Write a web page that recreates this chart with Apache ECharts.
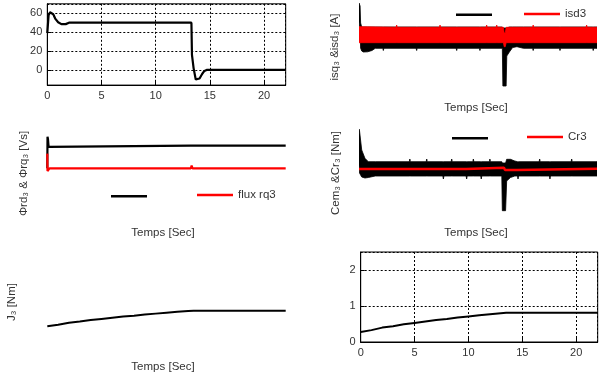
<!DOCTYPE html>
<html><head><meta charset="utf-8">
<script src="https://cdn.jsdelivr.net/npm/echarts/dist/echarts.min.js"></script>
<style>html,body{margin:0;padding:0;background:#fff}#c{width:600px;height:373px}</style>
</head><body><div id="c"></div>
<script>
// ---- Panel 1: speed ----
const T_SPEED = [0, 0.08, 0.12, 0.25, 0.4, 0.55, 0.75, 1.0, 1.3, 1.7, 2.0, 13.3, 13.35, 13.5, 13.7, 13.85, 14.05, 14.3, 14.5, 14.7, 22];
const SPEED   = [39, 39, 58, 61, 61.5, 59, 54, 50.5, 48.5, 48.5, 50, 50, 16, 2, -10, -12, -9, -4, -1, 0, 0];

// ---- Panel 2: isq3 (black band envelope) / isd3 (red band envelope) ----
const T_ISQ  = [0, 0.1, 0.15, 0.25, 0.4, 0.8, 1.2, 1.5, 2.2, 2.25, 2.3, 5.28, 5.33, 5.38, 8.98, 9.03, 9.08, 11.13, 11.18, 11.23, 13.25, 13.3, 13.6, 13.66, 13.9, 14.2, 14.6, 15.2, 16.05, 16.1, 16.15, 18.53, 18.58, 18.63, 21.6, 21.65, 21.7, 22];
const ISQ_LO = [28, 20, 2, -1, -2, -1.8, -0.5, 1.7, 1.7, -0.5, 1.7, 1.7, -0.5, 1.7, 1.7, -0.5, 1.7, 1.7, -0.5, 1.7, 1.7, -36, -36, -6, -2, 2.5, 3.3, 1.7, 1.7, -0.5, 1.7, 1.7, -0.5, 1.7, 1.7, -0.5, 1.7, 1.7];
const ISQ_HI = [47, 44, 27, 23, 23, 23, 23, 23, 23, 23, 23, 23, 23, 23, 23, 23, 23, 23, 23, 23, 23, 22, 22, 22, 23, 23, 23, 23, 23, 23, 23, 23, 23, 23, 23, 23, 23, 23];
const T_ISD  = [0, 3.43, 3.48, 3.53, 7.44, 7.49, 7.54, 11.75, 11.8, 11.85, 12.68, 12.73, 12.78, 13.35, 13.42, 13.52, 13.6, 16.05, 16.1, 16.15, 20.99, 21.04, 21.09, 22];
const ISD_LO = [7.3, 7.3, 7.3, 7.3, 7.3, 7.3, 7.3, 7.3, 7.3, 7.3, 7.3, 7.3, 7.3, 7.3, 3.3, 3.3, 7.3, 7.3, 7.3, 7.3, 7.3, 7.3, 7.3, 7.3];
const ISD_HI = [23.3, 22.7, 25, 22.7, 22.7, 25, 22.7, 22.7, 25, 22.7, 22.7, 25, 22.7, 22.7, 17, 17, 22.7, 22.7, 25, 22.7, 22.7, 25, 22.7, 22.7];

// ---- Panel 3: rotor fluxes ----
const T_FRD = [0, 0.02, 0.06, 0.12, 0.2, 0.3, 13.25, 13.32, 13.4, 22];
const FRD   = [0, 1.4, 1.3, 0.95, 0.9, 1.0, 1.0, 0.94, 1.0, 1.0];
const T_FRQ = [0, 0.02, 0.08, 0.2, 13.25, 13.32, 13.4, 22];
const FRQ   = [0.65, -0.12, -0.05, 0, 0, 0.12, 0, 0];

// ---- Panel 4: Cem3 (black band envelope) / Cr3 ----
const T_CEM  = [0, 0.05, 0.25, 0.55, 0.86, 1.5, 4.65, 4.7, 4.75, 6.21, 6.26, 6.31, 7.75, 7.8, 7.85, 8.52, 8.57, 8.62, 9.9, 9.95, 10.0, 10.52, 10.57, 10.62, 11.25, 11.3, 11.35, 12.05, 12.1, 12.15, 13.2, 13.25, 13.55, 13.65, 14.0, 14.4, 14.65, 14.7, 14.75, 16.65, 16.7, 16.75, 17.6, 17.65, 17.7, 19.61, 19.66, 19.71, 22];
const CEM_LO = [20, 12, 8, 7, 7.5, 9, 9, 9, 9, 9, 9, 9, 9, 6, 9, 9, 9, 9, 9, 6, 9, 9, 9, 9, 9, 6, 9, 9, 9, 9, 9, -25.7, -25.7, 4, 7.5, 9, 9, 6, 9, 9, 9, 9, 9, 6, 9, 9, 9, 9, 9];
const CEM_HI = [56, 54, 35, 26.7, 23.3, 23.3, 23.3, 26, 23.3, 23.3, 26, 23.3, 23.3, 23.3, 23.3, 23.3, 26, 23.3, 23.3, 23.3, 23.3, 23.3, 26, 23.3, 23.3, 23.3, 23.3, 23.3, 26, 23.3, 23.3, 22, 22, 25.7, 25.7, 24, 23.3, 23.3, 23.3, 23.3, 26, 23.3, 23.3, 23.3, 23.3, 23.3, 26, 23.3, 23.3];
const T_CR = [0, 9.9, 10.0, 13.4, 13.5, 14.6, 14.7, 22];
const CR   = [16, 16, 17.3, 17.3, 15, 15, 16.3, 16.3];

// ---- Panels 5 & 6: J3 ----
const T_J = [0, 1, 2, 3, 4, 5, 6, 7, 8, 9, 10, 11, 12, 13, 13.5, 22];
const J   = [0.28, 0.33, 0.40, 0.44, 0.49, 0.53, 0.57, 0.61, 0.64, 0.68, 0.71, 0.74, 0.77, 0.80, 0.81, 0.81];

const X_LABEL = 'Temps [Sec]';
const Y_LABELS = ['isq\u2083 &isd\u2083 [A]', '\u03A6rd\u2083 & \u03A6rq\u2083 [Vs]', 'Cem\u2083 &Cr\u2083 [Nm]', 'J\u2083 [Nm]'];

const FONT = '"Liberation Sans", Arial, Helvetica, sans-serif';
const TXT = '#333';

function pairs(t, v) { return t.map((x, i) => [x, v[i]]); }

function framedX(g) {
  return { gridIndex: g, type: 'value', min: 0, max: 22, interval: 5,
    axisLine: { show: true, onZero: false, lineStyle: { color: '#000', width: 1 } },
    axisTick: { show: true, inside: true, length: 4, lineStyle: { color: '#000' } },
    axisLabel: { margin: 5, color: TXT, fontSize: 11, fontFamily: FONT, showMaxLabel: false },
    splitLine: { show: true, lineStyle: { color: '#000', width: 1, type: [2, 2] } } };
}
function framedY(g, extra) {
  return Object.assign({ gridIndex: g, type: 'value',
    axisLine: { show: true, onZero: false, lineStyle: { color: '#000', width: 1 } },
    axisTick: { show: true, inside: true, length: 4, lineStyle: { color: '#000' } },
    axisLabel: { margin: 5, color: TXT, fontSize: 11, fontFamily: FONT, showMaxLabel: false, showMinLabel: false },
    splitLine: { show: true, lineStyle: { color: '#000', width: 1, type: [2, 2] } } }, extra);
}
function hiddenX(g) { return { gridIndex: g, type: 'value', min: 0, max: 22, show: false }; }
function hiddenY(g, mn, mx) { return { gridIndex: g, type: 'value', min: mn, max: mx, show: false }; }

function line(name, g, data, color, width) {
  return { name, type: 'line', xAxisIndex: g, yAxisIndex: g, data, symbol: 'none', color,
    itemStyle: { color }, lineStyle: { color, width }, animation: false };
}
// filled band between a lower and an upper envelope, placed with the axis scales
function band(name, g, t, lo, hi, color) {
  return { name, type: 'custom', xAxisIndex: g, yAxisIndex: g, color, itemStyle: { color },
    data: [[t[0], lo[0]]], animation: false, clip: true,
    renderItem: function (params, api) {
      const top = t.map((x, i) => api.coord([x, hi[i]]));
      const bot = t.map((x, i) => api.coord([x, lo[i]])).reverse();
      return { type: 'polygon', shape: { points: top.concat(bot) },
        style: { fill: color, stroke: color, lineWidth: 0.8 } };
    } };
}
function legend(name, left, top, hideText) {
  const l = { data: [name], left, top, icon: 'rect', itemWidth: 36, itemHeight: 2.5, padding: 0,
    selectedMode: false, textStyle: { fontSize: 11.5, color: TXT, fontFamily: FONT } };
  if (hideText) l.formatter = () => '';
  return l;
}
function text(x, y, s, rot) {
  return { type: 'text', x, y, rotation: rot || 0,
    style: { text: s, x: 0, y: 0, fill: TXT, font: '11.5px ' + FONT,
      align: 'center', verticalAlign: 'middle', textAlign: 'center', textVerticalAlign: 'middle' } };
}

const chart = echarts.init(document.getElementById('c'), null, { renderer: 'canvas' });
chart.setOption({
  animation: false,
  backgroundColor: '#fff',
  grid: [
    { left: 47.3, top: 3.8, width: 238.4, height: 81.3, show: true, borderColor: '#000', borderWidth: 1 },
    { left: 359, top: 0, width: 238, height: 90 },
    { left: 47.3, top: 129.9, width: 238.4, height: 46.3 },
    { left: 359, top: 125, width: 238, height: 90 },
    { left: 47.3, top: 261, width: 238.4, height: 73.5 },
    { left: 360.7, top: 252, width: 237, height: 90, show: true, borderColor: '#000', borderWidth: 1 }
  ],
  xAxis: [framedX(0), hiddenX(1), hiddenX(2), hiddenX(3), hiddenX(4), framedX(5)],
  yAxis: [
    framedY(0, { min: -16, max: 70, splitNumber: 4 }),
    hiddenY(1, -40, 50),
    hiddenY(2, -0.35, 1.7),
    hiddenY(3, -30, 60),
    hiddenY(4, 0, 2.5),
    framedY(5, { min: 0, max: 2.5, interval: 1, axisLabel: { margin: 5, color: TXT, fontSize: 11, fontFamily: FONT, showMaxLabel: false, showMinLabel: true } })
  ],
  legend: [
    legend('isq3', 456, 13.5, true),
    legend('isd3', 524, 8, false),
    legend('flux rd3', 111, 195, true),
    legend('flux rq3', 197, 189, false),
    legend('Cem3', 452, 137, true),
    legend('Cr3', 527, 131, false)
  ],
  graphic: [
    text(476, 108, X_LABEL),
    text(163, 233, X_LABEL),
    text(476, 233, X_LABEL),
    text(163, 366.5, X_LABEL),
    text(335, 47, Y_LABELS[0], Math.PI / 2),
    text(23.5, 173.5, Y_LABELS[1], Math.PI / 2),
    text(336, 173, Y_LABELS[2], Math.PI / 2),
    text(12, 302, Y_LABELS[3], Math.PI / 2)
  ],
  series: [
    line('speed', 0, pairs(T_SPEED, SPEED), '#000', 2.2),
    band('isq3', 1, T_ISQ, ISQ_LO, ISQ_HI, '#000'),
    band('isd3', 1, T_ISD, ISD_LO, ISD_HI, '#ff0000'),
    line('flux rd3', 2, pairs(T_FRD, FRD), '#000', 2.2),
    line('flux rq3', 2, pairs(T_FRQ, FRQ), '#ff0000', 2.2),
    band('Cem3', 3, T_CEM, CEM_LO, CEM_HI, '#000'),
    line('Cr3', 3, pairs(T_CR, CR), '#ff0000', 2.5),
    line('J3', 4, pairs(T_J, J), '#000', 2),
    line('J3 ', 5, pairs(T_J, J), '#000', 2)
  ]
});
</script>
</body></html>
